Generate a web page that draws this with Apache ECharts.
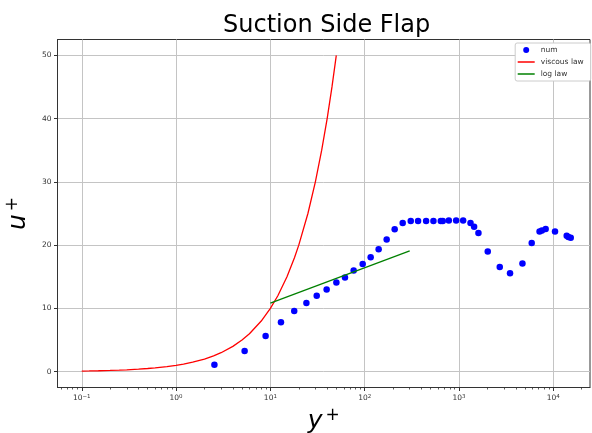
<!DOCTYPE html>
<html>
<head>
<meta charset="utf-8">
<script src="https://cdn.jsdelivr.net/npm/echarts@6/dist/echarts.min.js"></script>
<style>
  html, body { margin: 0; padding: 0; background: #fff; }
  #chart { width: 592px; height: 433px; }
</style>
</head>
<body>
<div id="chart"></div>
<script>
// Simulated wall profile on the suction side of the flap
const numYPlus = [2.55, 5.33, 8.9, 12.95, 17.9, 24.1, 31, 39.5, 50.1, 61.8, 76.4, 95.2, 115.7, 140.6, 171, 208, 253, 308, 368, 448, 536, 641, 673, 780, 933, 1107, 1325, 1447, 1608, 2018, 2705, 3478, 4709, 5904, 7150, 7580, 8300, 10430, 13870, 14450, 15310];
const numUPlus = [1.1, 3.26, 5.63, 7.8, 9.6, 10.86, 12.0, 13.0, 14.1, 14.9, 16.0, 17.0, 18.1, 19.35, 20.9, 22.5, 23.5, 23.8, 23.8, 23.8, 23.8, 23.8, 23.8, 23.9, 23.9, 23.9, 23.5, 22.9, 21.9, 19.0, 16.55, 15.55, 17.1, 20.35, 22.15, 22.3, 22.55, 22.15, 21.5, 21.3, 21.15];

// Viscous sublayer reference (u+ = y+)
const viscousYPlus = [0.1, 0.12, 0.15, 0.2, 0.25, 0.3, 0.4, 0.5, 0.6, 0.8, 1, 1.2, 1.5, 2, 2.5, 3, 4, 5, 6, 8, 10, 12, 15, 18, 20, 25, 30, 35, 40, 45, 50];
const viscousUPlus = [0.1, 0.12, 0.15, 0.2, 0.25, 0.3, 0.4, 0.5, 0.6, 0.8, 1, 1.2, 1.5, 2, 2.5, 3, 4, 5, 6, 8, 10, 12, 15, 18, 20, 25, 30, 35, 40, 45, 50];

// Log-law reference segment
const logYPlus = [10, 300];
const logUPlus = [10.82, 19.11];

// Axis ticks
const xMajorTicks = [0.1, 1, 10, 100, 1000, 10000];
const yTicks = [0, 10, 20, 30, 40, 50];

const xMin = 0.0553, xMax = 24500;
const yMin = -2.5, yMax = 52.5;

const xMinorTicks = [];
for (let d = 0.01; d <= 10000; d *= 10) {
  for (let m = 2; m <= 9; m++) {
    const v = +(m * d).toPrecision(3);
    if (v > xMin && v < xMax) xMinorTicks.push(v);
  }
}

const zip = (a, b) => a.map((v, i) => [v, b[i]]);
const FONT = 'DejaVu Sans';
const LINE_ICON = 'path://M0,0H34V3H0Z';

const chart = echarts.init(document.getElementById('chart'), null, { renderer: 'canvas' });

const tickLabel = {
  fontFamily: FONT,
  color: '#333',
  rich: {
    b: { fontFamily: FONT, fontSize: 7.5, color: '#333' },
    e: { fontFamily: FONT, fontSize: 5.5, color: '#333', padding: [0, 0, 4, 0] }
  }
};

const axisName = {
  rich: {
    i: { fontFamily: FONT, fontStyle: 'italic', fontSize: 25, color: '#000' },
    s: { fontFamily: FONT, fontSize: 17, color: '#000', padding: [0, 0, 12, 3] }
  }
};

chart.setOption({
  animation: false,
  backgroundColor: '#fff',
  title: {
    text: 'Suction Side Flap',
    left: 218,
    top: 9,
    textStyle: { fontFamily: FONT, fontSize: 24, fontWeight: 'normal', color: '#000' }
  },
  legend: {
    orient: 'vertical',
    right: 1.3,
    top: 43,
    backgroundColor: '#fff',
    borderColor: '#cccccc',
    borderWidth: 1,
    borderRadius: 2,
    padding: [1, 7, 1, 2.5],
    itemGap: 0,
    itemWidth: 17,
    itemHeight: 6,
    textStyle: { fontFamily: FONT, fontSize: 7.5, color: '#333', lineHeight: 12, padding: [0, 0, 0, 1] },
    data: [
      { name: 'num', icon: 'circle' },
      { name: 'viscous law', icon: LINE_ICON },
      { name: 'log law', icon: LINE_ICON }
    ]
  },
  grid: {
    left: 57.5,
    right: 2,
    top: 39.5,
    bottom: 45.5,
    show: true,
    borderColor: '#333',
    borderWidth: 1,
    containLabel: false,
    outerBoundsMode: 'none'
  },
  xAxis: [
    {
      type: 'log',
      logBase: 10,
      min: xMin,
      max: xMax,
      name: '{i|y}{s|+}',
      nameLocation: 'middle',
      nameGap: 19,
      nameTextStyle: axisName,
      axisLine: { show: true, onZero: false, lineStyle: { color: '#333', width: 1 } },
      axisTick: { show: true, length: 3.5, lineStyle: { color: '#333' }, customValues: xMajorTicks },
      axisLabel: {
        show: true,
        margin: 6,
        customValues: xMajorTicks,
        formatter: function (v) {
          const e = Math.round(Math.log10(v));
          return '{b|10}{e|' + (e < 0 ? '\u2212' + (-e) : e) + '}';
        },
        ...tickLabel
      },
      splitLine: { show: true, lineStyle: { color: '#c4c4c4', width: 1 } },
      minorTick: { show: false },
      minorSplitLine: { show: false }
    },
    {
      type: 'log',
      logBase: 10,
      min: xMin,
      max: xMax,
      position: 'bottom',
      axisLine: { show: false, onZero: false },
      axisTick: { show: true, length: 2, lineStyle: { color: '#333', width: 0.8 }, customValues: xMinorTicks },
      axisLabel: { show: false },
      splitLine: { show: false }
    }
  ],
  yAxis: {
    type: 'value',
    min: yMin,
    max: yMax,
    name: '{i|u}{s|+}',
    nameLocation: 'middle',
    nameRotate: 90,
    nameGap: 17,
    nameTextStyle: axisName,
    axisLine: { show: true, onZero: false, lineStyle: { color: '#333', width: 1 } },
    axisTick: { show: true, length: 3.5, lineStyle: { color: '#333' }, customValues: yTicks },
    axisLabel: {
      show: true,
      margin: 6,
      customValues: yTicks,
      fontFamily: FONT,
      fontSize: 7.5,
      color: '#333'
    },
    splitLine: { show: true, lineStyle: { color: '#c4c4c4', width: 1 } }
  },
  series: [
    {
      name: 'num',
      type: 'scatter',
      xAxisIndex: 0,
      data: zip(numYPlus, numUPlus),
      symbol: 'circle',
      symbolSize: 6.5,
      itemStyle: { color: '#0000ff', opacity: 1 }
    },
    {
      name: 'viscous law',
      type: 'line',
      xAxisIndex: 0,
      data: zip(viscousYPlus, viscousUPlus),
      symbol: 'none',
      smooth: false,
      lineStyle: { color: '#ff0000', width: 1.3 },
      itemStyle: { color: '#ff0000' }
    },
    {
      name: 'log law',
      type: 'line',
      xAxisIndex: 0,
      data: zip(logYPlus, logUPlus),
      symbol: 'none',
      lineStyle: { color: '#008000', width: 1.3 },
      itemStyle: { color: '#008000' }
    }
  ]
});
</script>
</body>
</html>
